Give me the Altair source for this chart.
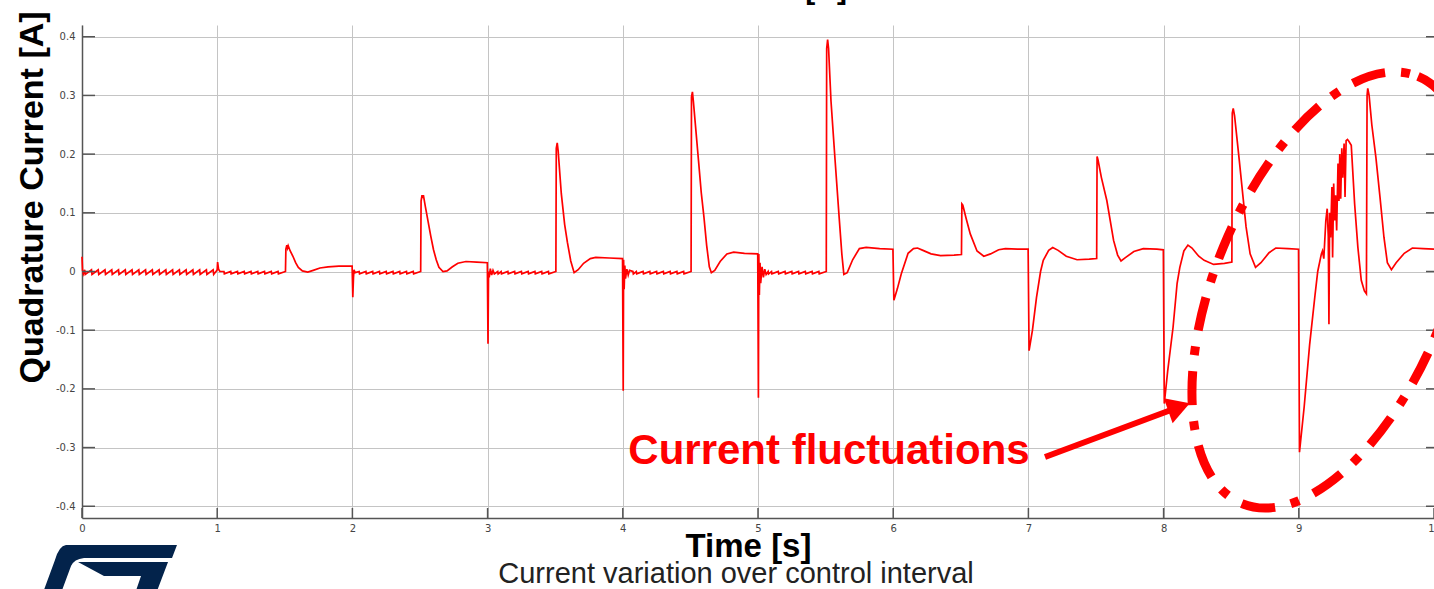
import altair as alt
import pandas as pd

# ---------------- data (time [s], quadrature current [A]) ----------------
seg_0 = [(0.000, 0.025), (0.004, 0.002), (0.010, -0.004),
         (0.020, 0.003), (0.024, -0.005), (0.070, 0.003), (0.074, -0.005), (0.120, 0.003), (0.124, -0.005),
         (0.170, 0.003), (0.174, -0.005), (0.220, 0.003), (0.224, -0.005), (0.270, 0.003), (0.274, -0.005),
         (0.320, 0.003), (0.324, -0.005), (0.370, 0.003), (0.374, -0.005), (0.420, 0.003), (0.424, -0.005),
         (0.470, 0.003), (0.474, -0.005), (0.520, 0.003), (0.524, -0.005), (0.570, 0.003), (0.574, -0.005),
         (0.620, 0.003), (0.624, -0.005), (0.670, 0.003), (0.674, -0.005), (0.720, 0.003), (0.724, -0.005),
         (0.770, 0.003), (0.774, -0.005), (0.820, 0.003), (0.824, -0.005), (0.870, 0.003), (0.874, -0.005),
         (0.920, 0.003), (0.924, -0.005), (0.970, 0.003), (0.974, -0.005), (0.998, 0.002)]

seg_1 = [(1.000, 0.003), (1.003, 0.016), (1.010, 0.004), (1.020, 0.000), (1.050, 0.000), (1.053, -0.004),
         (1.100, 0.000), (1.103, -0.004), (1.150, 0.000), (1.153, -0.004), (1.200, 0.000), (1.203, -0.004),
         (1.250, 0.000), (1.253, -0.004), (1.300, 0.000), (1.303, -0.004), (1.350, 0.000), (1.353, -0.004),
         (1.400, 0.000), (1.403, -0.004), (1.450, 0.000), (1.453, -0.004), (1.505, 0.000),
         (1.508, 0.038), (1.515, 0.045), (1.520, 0.040), (1.525, 0.044), (1.540, 0.035), (1.560, 0.026),
         (1.580, 0.015), (1.600, 0.007), (1.630, 0.001), (1.670, -0.001), (1.710, 0.002), (1.760, 0.006),
         (1.820, 0.008), (1.900, 0.009), (1.998, 0.009)]

seg_2 = [(2.003, -0.044), (2.008, -0.010), (2.012, 0.003), (2.020, -0.002), (2.050, 0.000), (2.053, -0.004),
         (2.100, 0.000), (2.103, -0.004), (2.150, 0.000), (2.153, -0.004), (2.200, 0.000), (2.203, -0.004),
         (2.250, 0.000), (2.253, -0.004), (2.300, 0.000), (2.303, -0.004), (2.350, 0.000), (2.353, -0.004),
         (2.400, 0.000), (2.403, -0.004), (2.450, 0.000), (2.453, -0.004), (2.505, 0.000),
         (2.508, 0.120), (2.515, 0.130), (2.520, 0.125), (2.525, 0.130), (2.540, 0.110), (2.560, 0.085),
         (2.580, 0.060), (2.600, 0.037), (2.620, 0.020), (2.640, 0.007), (2.670, 0.000), (2.700, 0.001),
         (2.740, 0.008), (2.780, 0.014), (2.840, 0.017), (2.920, 0.016), (2.998, 0.015)]

seg_3 = [(3.003, -0.123), (3.007, 0.000), (3.012, -0.010), (3.020, 0.005), (3.030, -0.006), (3.040, 0.002),
         (3.050, -0.004), (3.075, 0.000), (3.078, -0.004), (3.100, 0.000), (3.103, -0.004), (3.150, 0.000),
         (3.153, -0.004), (3.200, 0.000), (3.203, -0.004), (3.250, 0.000), (3.253, -0.004), (3.300, 0.000),
         (3.303, -0.004), (3.350, 0.000), (3.353, -0.004), (3.400, 0.000), (3.403, -0.004), (3.450, 0.000),
         (3.453, -0.004), (3.505, 0.000),
         (3.508, 0.210), (3.515, 0.219), (3.522, 0.205), (3.545, 0.133), (3.570, 0.080), (3.590, 0.050),
         (3.615, 0.018), (3.640, -0.002), (3.670, 0.003), (3.710, 0.014), (3.760, 0.022), (3.800, 0.024),
         (3.900, 0.023), (3.998, 0.022)]

seg_4 = [(4.003, -0.203), (4.006, 0.020), (4.010, -0.030), (4.015, 0.010), (4.020, -0.012), (4.030, 0.004),
         (4.040, -0.006), (4.050, 0.002), (4.075, 0.000), (4.078, -0.004), (4.100, 0.000), (4.103, -0.004),
         (4.150, 0.000), (4.153, -0.004), (4.200, 0.000), (4.203, -0.004), (4.250, 0.000), (4.253, -0.004),
         (4.300, 0.000), (4.303, -0.004), (4.350, 0.000), (4.353, -0.004), (4.400, 0.000), (4.403, -0.004),
         (4.450, 0.000), (4.453, -0.004), (4.505, 0.000),
         (4.508, 0.297), (4.515, 0.306), (4.522, 0.290), (4.560, 0.189), (4.580, 0.135), (4.600, 0.093),
         (4.620, 0.045), (4.640, 0.008), (4.655, -0.002), (4.680, 0.002), (4.720, 0.017), (4.770, 0.030),
         (4.820, 0.033), (4.900, 0.031), (4.998, 0.030)]

seg_5 = [(5.003, -0.215), (5.006, 0.030), (5.010, -0.040), (5.015, 0.015), (5.020, -0.020), (5.030, 0.008),
         (5.040, -0.010), (5.050, 0.004), (5.060, -0.005), (5.075, 0.000), (5.078, -0.004), (5.100, 0.000),
         (5.103, -0.004), (5.150, 0.000), (5.153, -0.004), (5.200, 0.000), (5.203, -0.004), (5.250, 0.000),
         (5.253, -0.004), (5.300, 0.000), (5.303, -0.004), (5.350, 0.000), (5.353, -0.004), (5.400, 0.000),
         (5.403, -0.004), (5.450, 0.000), (5.453, -0.004), (5.505, 0.000),
         (5.508, 0.380), (5.515, 0.395), (5.522, 0.380), (5.540, 0.290), (5.570, 0.190), (5.600, 0.093),
         (5.620, 0.030), (5.635, -0.005), (5.660, -0.002), (5.700, 0.020), (5.750, 0.039), (5.800, 0.041),
         (5.900, 0.039), (5.998, 0.038)]

seg_6 = [(6.005, -0.049), (6.030, -0.030), (6.060, -0.004), (6.110, 0.031), (6.150, 0.039), (6.180, 0.040),
         (6.220, 0.036), (6.280, 0.030), (6.350, 0.027), (6.450, 0.028), (6.505, 0.029), (6.508, 0.115),
         (6.515, 0.113), (6.540, 0.090), (6.570, 0.064), (6.620, 0.035), (6.670, 0.026), (6.720, 0.030),
         (6.780, 0.037), (6.830, 0.039), (6.920, 0.038), (6.998, 0.038)]

seg_7 = [(7.005, -0.135), (7.030, -0.100), (7.060, -0.044), (7.090, 0.000), (7.110, 0.019), (7.150, 0.036),
         (7.180, 0.041), (7.220, 0.036), (7.280, 0.026), (7.360, 0.020), (7.450, 0.021), (7.505, 0.022),
         (7.508, 0.196), (7.515, 0.190), (7.540, 0.160), (7.580, 0.121), (7.630, 0.053), (7.660, 0.028),
         (7.685, 0.018), (7.720, 0.024), (7.780, 0.034), (7.850, 0.039), (7.950, 0.038), (7.998, 0.037)]

seg_8 = [(8.005, -0.225), (8.030, -0.170), (8.070, -0.095), (8.100, -0.020), (8.120, 0.007), (8.150, 0.035),
         (8.180, 0.045), (8.210, 0.040), (8.260, 0.026), (8.300, 0.019), (8.370, 0.012), (8.450, 0.014),
         (8.505, 0.016), (8.508, 0.270), (8.515, 0.278), (8.525, 0.265), (8.560, 0.189), (8.610, 0.076),
         (8.640, 0.030), (8.680, 0.007), (8.720, 0.015), (8.780, 0.032), (8.830, 0.040), (8.920, 0.039),
         (8.998, 0.038)]

seg_9 = [(9.005, -0.308), (9.040, -0.230), (9.080, -0.125), (9.120, -0.040), (9.140, 0.000), (9.167, 0.030),
         (9.175, 0.035), (9.185, 0.022), (9.200, 0.087), (9.210, 0.107), (9.218, 0.060), (9.223, -0.090),
         (9.228, 0.100), (9.235, 0.058), (9.245, 0.144), (9.250, 0.024), (9.258, 0.150), (9.265, 0.087),
         (9.272, 0.130), (9.280, 0.070), (9.290, 0.184), (9.297, 0.120), (9.303, 0.200), (9.310, 0.124),
         (9.318, 0.210), (9.325, 0.160), (9.335, 0.218), (9.342, 0.127), (9.350, 0.223), (9.360, 0.225),
         (9.370, 0.222), (9.388, 0.215), (9.413, 0.115), (9.437, 0.041), (9.462, -0.015), (9.485, -0.033),
         (9.500, -0.038), (9.505, 0.300), (9.510, 0.312), (9.520, 0.300), (9.540, 0.250), (9.570, 0.195),
         (9.600, 0.128), (9.630, 0.058), (9.655, 0.015), (9.685, 0.003), (9.720, 0.015), (9.780, 0.031),
         (9.840, 0.040), (9.920, 0.039), (10.000, 0.038)]

x_ticks = [0, 1, 2, 3, 4, 5, 6, 7, 8, 9, 10]
y_ticks = [-0.4, -0.3, -0.2, -0.1, 0.0, 0.1, 0.2, 0.3, 0.4]

x_title = "Time [s]"
y_title = "Quadrature Current [A]"
top_title = "Current [A]"
caption = "Current variation over control interval"
annotation = "Current fluctuations"

# ---------------- chart ----------------
rows = []
for seg in [seg_0, seg_1, seg_2, seg_3, seg_4, seg_5, seg_6, seg_7, seg_8, seg_9]:
    rows.extend(seg)
df = pd.DataFrame(rows, columns=["t", "iq"])

W, H = 1352, 493
RED = "#ff0000"
AXC = "#555555"
xs = alt.Scale(domain=[0, 10], nice=False, zero=False)
ys = alt.Scale(domain=[-0.42, 0.42], nice=False, zero=False)

x_axis = alt.Axis(
    values=x_ticks, format="d", title=x_title, grid=True, gridColor="#c4c4c4", gridWidth=1,
    ticks=False, domainColor=AXC, domainWidth=1.5, labelFont="DejaVu Sans", labelFontSize=10,
    labelColor="#444444", labelPadding=5, labelFlush=False, labelOverlap=False,
    titleFont="Liberation Sans", titleFontSize=33, titleFontWeight="bold", titleColor="#000000",
    titleX=666, titleY=38, titleAlign="center", titleBaseline="alphabetic")
y_axis = alt.Axis(
    values=y_ticks, title=y_title, grid=True, gridColor="#c4c4c4", gridWidth=1,
    labelExpr="datum.value == 0 ? '0' : (datum.value < 0 ? '-' : '') + format(abs(datum.value), '.1f')",
    ticks=False, domainColor=AXC, domainWidth=1.5, labelFont="DejaVu Sans", labelFontSize=10,
    labelColor="#444444", labelPadding=7, labelFlush=False, labelOverlap=False,
    titleFont="Liberation Sans", titleFontSize=34, titleFontWeight="bold", titleColor="#000000",
    titleAngle=270, titleX=-40, titleY=172, titleAlign="center", titleBaseline="alphabetic")

line = alt.Chart(df).mark_line(color=RED, strokeWidth=1.7).encode(
    x=alt.X("t:Q", scale=xs, axis=x_axis),
    y=alt.Y("iq:Q", scale=ys, axis=y_axis),
)

ytick_df = pd.DataFrame({"iq": y_ticks})
xtick_df = pd.DataFrame({"t": x_ticks})
left_ticks = alt.Chart(ytick_df).mark_rule(color=AXC, strokeWidth=1.5).encode(
    x=alt.value(0), x2=alt.value(13), y=alt.Y("iq:Q", scale=ys, axis=y_axis))
right_ticks = alt.Chart(ytick_df).mark_rule(color=AXC, strokeWidth=1.5).encode(
    x=alt.value(W - 8), x2=alt.value(W), y=alt.Y("iq:Q", scale=ys, axis=y_axis))
bottom_ticks = alt.Chart(xtick_df).mark_rule(color=AXC, strokeWidth=1.5).encode(
    x=alt.X("t:Q", scale=xs, axis=x_axis), y=alt.value(H - 10), y2=alt.value(H))

one = pd.DataFrame({"label": [annotation]})
fluct_text = alt.Chart(one).mark_text(
    font="Liberation Sans", fontSize=42, fontWeight="bold", color=RED, align="center",
    baseline="alphabetic").encode(x=alt.value(747), y=alt.value(439), text="label:N")

arrow_shaft = alt.Chart(one).mark_rule(color=RED, strokeWidth=6).encode(
    x=alt.value(963), y=alt.value(432), x2=alt.value(1097), y2=alt.value(382))
arrow_head = alt.Chart(one).mark_point(
    shape="triangle-right", filled=True, size=700, angle=340.5, color=RED, opacity=1).encode(
    x=alt.value(1097), y=alt.value(382))

ellipse_path = "M0,-1A0.498,1,0,1,1,0,1A0.498,1,0,1,1,0,-1Z"
ellipse = alt.Chart(one).mark_point(
    shape=ellipse_path, filled=False, size=213444, angle=22.4, color=RED, opacity=1,
    strokeWidth=9, strokeDash=[34, 16, 9, 16]).encode(x=alt.value(1248), y=alt.value(265))

top_df = pd.DataFrame({"label": [top_title]})
top_text = alt.Chart(top_df).mark_text(
    font="Liberation Sans", fontSize=30, fontWeight="bold", color="#000000", align="right",
    baseline="alphabetic").encode(x=alt.value(765), y=alt.value(-26), text="label:N")

cap_df = pd.DataFrame({"label": [caption]})
cap_text = alt.Chart(cap_df).mark_text(
    font="Liberation Sans", fontSize=29, color="#222222", align="center",
    baseline="alphabetic").encode(x=alt.value(654), y=alt.value(558), text="label:N")

# ST logo (graphic, bottom-left, cut by the page edge)
logo_path = ("M-0.629,-0.314L0.957,-0.314L0.886,-0.129L-0.371,-0.129Q-0.514,-0.114,-0.557,-0.014"
             "L-0.71,0.4L-0.97,0.4L-0.786,-0.1Q-0.729,-0.3,-0.629,-0.314Z"
             "M-0.457,-0.071L0.829,-0.071L0.65,0.4L0.35,0.4L0.443,0.129L-0.086,0.129Z")
logo = alt.Chart(one).mark_point(
    shape=logo_path, filled=True, size=19600, color="#03234b", opacity=1, strokeWidth=0).encode(
    x=alt.value(28), y=alt.value(542))

chart = alt.layer(
    line, left_ticks, right_ticks, bottom_ticks, fluct_text, arrow_shaft, arrow_head, ellipse,
    top_text, cap_text, logo
).properties(
    width=W, height=H,
    autosize=alt.AutoSizeParams(type="none"),
    padding={"left": 82, "top": 25, "right": 0, "bottom": 71},
    background="#ffffff",
).configure_view(strokeWidth=0)

chart.save("out.html", embed_options={"renderer": "svg", "actions": False})
